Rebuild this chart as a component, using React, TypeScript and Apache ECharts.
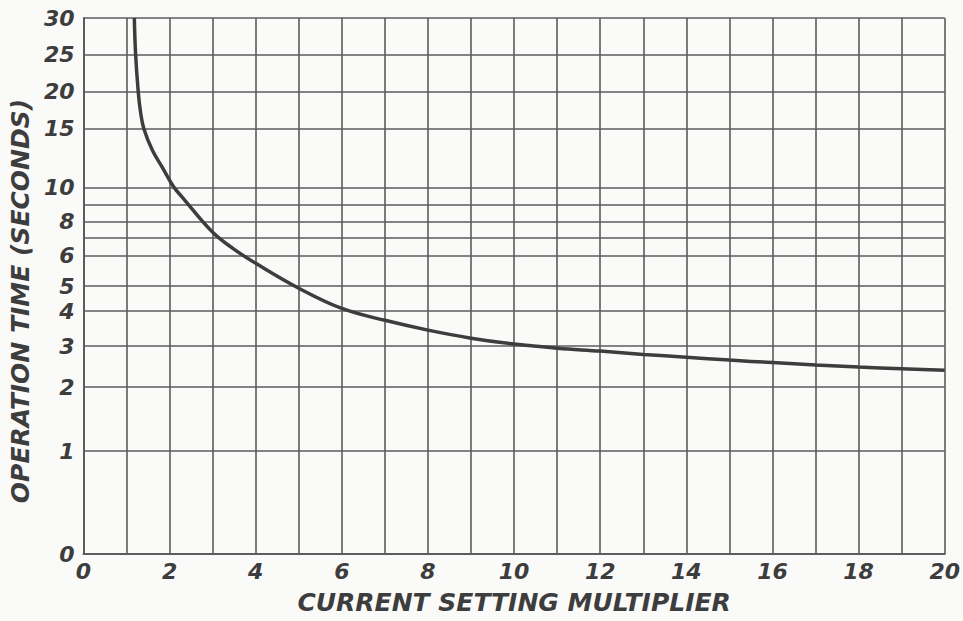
import React, { useEffect, useRef } from "react";
import * as echarts from "echarts";

// Time-axis scale of the original (hand-drawn, non-uniform): tick values and their
// height above the zero line, in chart units.
const timeTicks = [0, 1, 2, 3, 4, 5, 6, 7, 8, 9, 10, 15, 20, 25, 30];
const timeTickPositions = [0, 103, 167, 208, 243, 268, 299, 317, 333, 350, 367, 426, 463, 500, 536.5];
const timeLabelValues = [0, 1, 2, 3, 4, 5, 6, 8, 10, 15, 20, 25, 30];

// Curve
const multiplier = [1.18, 1.21, 1.27, 1.32, 1.4, 1.6, 1.83, 2.1, 2.29, 3, 3.5, 4, 5, 6, 7, 8, 9, 10, 11, 12, 13, 14, 15, 16, 17, 18, 19, 20];
const operationTime = [30, 25, 20, 17.4, 15, 13.14, 11.7, 10, 9.43, 7.31, 6.33, 5.74, 4.92, 4.11, 3.74, 3.46, 3.23, 3.06, 2.95, 2.88, 2.8, 2.73, 2.66, 2.6, 2.54, 2.49, 2.45, 2.41];

const xTicksMax = 20;

function timeToPos(t: number): number {
  for (let i = 0; i < timeTicks.length - 1; i++) {
    const a = timeTicks[i];
    const b = timeTicks[i + 1];
    if (t >= a && t <= b) {
      const f = (t - a) / (b - a);
      return timeTickPositions[i] + f * (timeTickPositions[i + 1] - timeTickPositions[i]);
    }
  }
  return timeTickPositions[timeTickPositions.length - 1];
}

export default function App() {
  const ref = useRef<HTMLDivElement>(null);
  useEffect(() => {
    document.body.style.margin = "0";
    const chart = echarts.init(ref.current!, null, { renderer: "svg" });
    const ink = "#3d3d3d";
    const gridColor = "#5c5c5c";
    const font = {
      fontFamily: "DejaVu Sans",
      fontStyle: "italic" as const,
      fontWeight: "bold" as const,
      color: ink,
    };
    const posMax = timeToPos(timeTicks[timeTicks.length - 1]);
    const labelPositions = timeLabelValues.map(timeToPos);
    chart.setOption({
      animation: false,
      backgroundColor: "#fafaf9",
      grid: { left: 81, right: 18, top: 18, bottom: 67 },
      xAxis: {
        type: "value",
        min: 0,
        max: xTicksMax,
        interval: 1,
        name: "CURRENT SETTING MULTIPLIER",
        nameLocation: "middle",
        nameGap: 36,
        nameTextStyle: { ...font, fontSize: 25 },
        axisLine: { show: true, lineStyle: { color: gridColor, width: 2 } },
        axisTick: { show: false },
        axisLabel: {
          ...font,
          fontSize: 22,
          margin: 6,
          formatter: (v: number) => (Math.round(v) % 2 === 0 ? String(Math.round(v)) : ""),
        },
        splitLine: { show: true, lineStyle: { color: gridColor, width: 1.6 } },
      },
      yAxis: {
        type: "value",
        min: 0,
        max: posMax,
        name: "OPERATION TIME (SECONDS)",
        nameLocation: "middle",
        nameGap: 40,
        nameTextStyle: { ...font, fontSize: 25, padding: [0, 30, 0, 0] },
        axisLine: { show: true, lineStyle: { color: gridColor, width: 2 } },
        axisTick: { show: false },
        splitLine: { show: false },
        axisLabel: {
          ...font,
          fontSize: 22,
          margin: 9,
          customValues: labelPositions,
          formatter: (v: number) => {
            let best = 0;
            let bd = Infinity;
            labelPositions.forEach((p, i) => {
              const d = Math.abs(p - v);
              if (d < bd) {
                bd = d;
                best = i;
              }
            });
            return String(timeLabelValues[best]);
          },
        },
      },
      series: [
        {
          type: "line",
          data: multiplier.map((m, i) => [m, timeToPos(operationTime[i])]),
          smooth: 0.4,
          showSymbol: false,
          symbol: "none",
          lineStyle: { color: ink, width: 3.5 },
          markLine: {
            silent: true,
            symbol: "none",
            animation: false,
            label: { show: false },
            lineStyle: { color: gridColor, width: 1.6, type: "solid" },
            data: timeTicks.map((t) => ({ yAxis: timeToPos(t) })),
          },
          z: 5,
        },
      ],
    });
    return () => chart.dispose();
  }, []);
  return <div ref={ref} style={{ width: 963, height: 621 }} />;
}
